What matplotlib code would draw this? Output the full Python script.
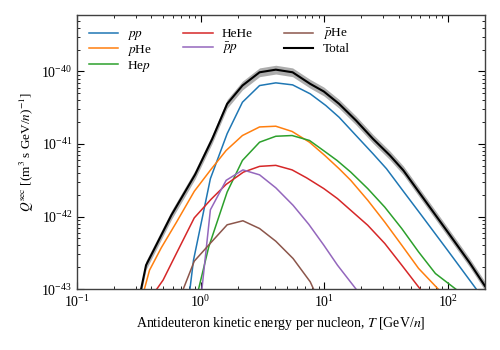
import numpy as np
import matplotlib
matplotlib.use('Agg')
import matplotlib.pyplot as plt
from matplotlib.ticker import LogLocator, NullFormatter

plt.rcParams['font.family'] = ['Liberation Serif', 'DejaVu Serif']
plt.rcParams['mathtext.fontset'] = 'stix'
plt.rcParams['font.size'] = 9

# values (T in GeV/n, Q in (m^3 s GeV/n)^-1)
T_tot = [0.33, 0.362, 0.424, 0.581, 0.903, 1.24, 1.64, 2.18, 3.0, 4.06, 5.55,
	7.71, 9.93, 13.2, 18.1, 24.8, 34.0, 43.7, 60, 100, 150, 200]
Q_tot = [1.0e-43, 2.14e-43, 3.63e-43, 1.05e-42, 3.8e-42, 1.17e-41, 3.58e-41,
	6.4e-41, 9.75e-41, 1.06e-40, 9.75e-41, 6.75e-41, 5.3e-41, 3.58e-41,
	2.11e-41, 1.18e-41, 6.97e-42, 4.33e-42, 2.04e-42, 6.1e-43, 2.32e-43,
	1.1e-43]

T_pp = [0.82, 0.876, 1.20, 1.64, 2.18, 3.0, 4.06, 5.55, 7.71, 10.3, 13.2,
	18.1, 24.8, 31.9, 43.7, 60, 100, 170]
Q_pp = [1.0e-43, 2.5e-43, 3.33e-42, 1.39e-41, 3.77e-41, 6.4e-41, 6.97e-41,
	6.54e-41, 4.92e-41, 3.4e-41, 2.34e-41, 1.31e-41, 7.36e-42, 4.57e-42,
	2.23e-42, 1.09e-42, 3.4e-43, 1.0e-43]

T_pHe = [0.351, 0.386, 0.481, 0.638, 0.889, 1.215, 1.61, 2.18, 3.0, 4.06, 5.5,
	7.6, 10.1, 13.2, 16.4, 22.5, 30.9, 42.4, 58.0, 83.7]
Q_pHe = [1.0e-43, 1.82e-43, 3.72e-43, 8.36e-43, 2.23e-42, 4.48e-42, 8.16e-42,
	1.31e-41, 1.72e-41, 1.76e-41, 1.49e-41, 1.06e-41, 6.97e-42, 4.57e-42,
	3.16e-42, 1.68e-42, 8.4e-43, 4.03e-43, 1.93e-43, 1.0e-43]

T_Hep = [0.963, 1.164, 1.64, 2.18, 3.0, 4.06, 5.5, 7.6, 10.1, 12.7, 16.4,
	22.5, 30.9, 42.4, 58.0, 79.4, 116]
Q_Hep = [1.0e-43, 3.82e-43, 2.18e-42, 5.94e-42, 1.06e-41, 1.28e-41, 1.31e-41,
	1.12e-41, 7.9e-42, 5.94e-42, 4.1e-42, 2.43e-42, 1.35e-42, 6.84e-43,
	3.26e-43, 1.64e-43, 1.0e-43]

T_HeHe = [0.442, 0.497, 0.627, 0.889, 1.215, 1.61, 2.22, 3.0, 4.06, 5.5, 7.2,
	9.93, 12.8, 16.4, 22.5, 30.9, 42.4, 59.8]
Q_HeHe = [1.0e-43, 1.33e-43, 2.94e-43, 9.6e-43, 1.73e-42, 2.78e-42, 4.1e-42,
	4.92e-42, 5.08e-42, 4.4e-42, 3.42e-42, 2.43e-42, 1.77e-42, 1.22e-42,
	7.59e-43, 4.26e-43, 2.14e-43, 1.0e-43]

T_pbp = [1.025, 1.20, 1.61, 2.2, 3.0, 4.06, 5.6, 7.5, 9.93, 12.8, 18.1]
Q_pbp = [1.0e-43, 1.24e-42, 3.16e-42, 4.4e-42, 3.76e-42, 2.49e-42, 1.43e-42,
	7.83e-43, 4.03e-43, 2.14e-43, 1.0e-43]

T_pbHe = [0.724, 0.889, 1.18, 1.64, 2.2, 3.0, 4.06, 5.6, 7.71, 8.2]
Q_pbHe = [1.0e-43, 2.43e-43, 4.16e-43, 7.7e-43, 8.75e-43, 6.84e-43, 4.57e-43,
	2.64e-43, 1.26e-43, 1.0e-43]

band_lo, band_hi = 0.87, 1.15


def make_plot():
	fig = plt.figure(figsize=(5, 3.5), dpi=100)
	ax = fig.add_axes([0.154, 0.174, 0.816, 0.783])

	tot = np.array(Q_tot)
	ax.fill_between(T_tot, tot*band_lo, tot*band_hi, color='0.6',
		alpha=0.8, lw=0, zorder=1)

	ax.plot(T_pp, Q_pp, color='C0', lw=1.1, label=r'$pp$')
	ax.plot(T_pHe, Q_pHe, color='C1', lw=1.1, label=r'$p$He')
	ax.plot(T_Hep, Q_Hep, color='C2', lw=1.1, label=r'He$p$')
	ax.plot(T_HeHe, Q_HeHe, color='C3', lw=1.1, label='HeHe')
	ax.plot(T_pbp, Q_pbp, color='C4', lw=1.1, label=r'$\bar{p}p$')
	ax.plot(T_pbHe, Q_pbHe, color='C5', lw=1.1, label=r'$\bar{p}$He')
	ax.plot(T_tot, Q_tot, color='k', lw=1.5, label='Total', zorder=3)

	ax.set_xscale('log')
	ax.set_yscale('log')
	ax.set_xlim(0.1, 200)
	ax.set_ylim(1e-43, 6e-40)

	ax.xaxis.set_minor_locator(LogLocator(base=10, subs=np.arange(2, 10)))
	ax.yaxis.set_minor_locator(LogLocator(base=10, subs=np.arange(2, 10)))
	ax.xaxis.set_minor_formatter(NullFormatter())
	ax.yaxis.set_minor_formatter(NullFormatter())
	ax.tick_params(which='both', direction='in', top=True, right=True,
		labelsize=10)
	ax.tick_params(which='major', length=5, width=0.8)
	ax.tick_params(which='minor', length=2.5, width=0.6)
	for s in ax.spines.values():
		s.set_linewidth(1.0)
		s.set_color('0.25')

	ax.set_xlabel(r'Antideuteron kinetic energy per nucleon, $T$ [GeV/$n$]',
		fontsize=10)
	ax.set_ylabel(r'$Q^{\mathrm{sec}}$ [(m$^3$ s GeV/$n$)$^{-1}$]',
		fontsize=9.5)

	ax.legend(loc='upper left', ncol=3, frameon=False, fontsize=9.5,
		handlelength=2.2, handletextpad=0.7, columnspacing=2.4,
		labelspacing=0.05, borderaxespad=0.5)

	fig.savefig('out.png', dpi=100)


if __name__ == '__main__':
	make_plot()
